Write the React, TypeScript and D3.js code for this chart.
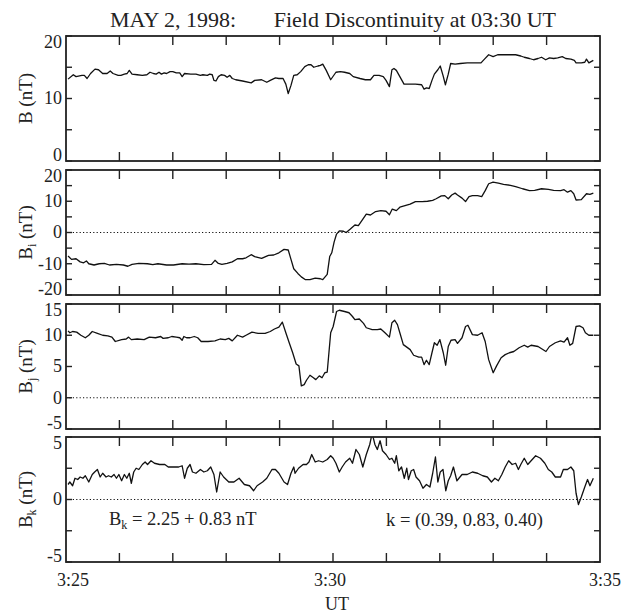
import React from 'react';
import * as d3 from 'd3';

// ---------- DATA ----------
const TITLE_LEFT = 'MAY 2, 1998:';
const TITLE_RIGHT = 'Field Discontinuity at 03:30 UT';
const X_TICK_LABELS = ['3:25', '3:30', '3:35'];
const X_LABEL_SECONDS = [0, 300, 600];
const MINUTE_TICKS = [60, 120, 180, 240, 300, 360, 420, 480, 540];
const X_TITLE = 'UT';
const ANNOT_LEFT = ['B', 'k', ' = 2.25 + 0.83 nT'];
const ANNOT_RIGHT = 'k = (0.39, 0.83, 0.40)';

// [seconds after 03:25:00, nT]
const B_DATA: [number, number][] = [
  [2.3, 13.1], [8.2, 13.8], [11.3, 13.5], [17.9, 13.7], [20.6, 13.7], [23.7, 13.2], [27.6, 14.0], [32.6, 14.7],
  [36.5, 14.6], [41.2, 14.0], [46.2, 14.0], [49.7, 14.4], [52.8, 14.0], [58.6, 13.7], [61.7, 13.7], [65.6, 13.9],
  [68.7, 14.0], [71.1, 14.5], [74.2, 13.9], [80.0, 13.8], [85.8, 13.7], [90.9, 13.8], [94.4, 14.2], [98.2, 14.0],
  [101.3, 13.9], [104.5, 14.2], [107.2, 13.9], [110.3, 14.1], [113.0, 14.0], [116.9, 14.3], [120.0, 14.3], [123.9, 14.1],
  [127.8, 14.1], [130.5, 13.5], [133.2, 14.0], [140.2, 13.9], [146.0, 13.9], [151.0, 13.7], [153.8, 13.8], [158.8, 13.7],
  [161.5, 13.9], [164.3, 13.8], [166.2, 12.9], [168.5, 12.8], [171.2, 13.5], [174.3, 13.8], [178.2, 13.7], [181.0, 13.4],
  [184.1, 13.7], [186.8, 13.2], [190.7, 13.0], [198.4, 12.8], [208.1, 12.5], [212.0, 12.9], [219.8, 13.0], [225.6, 12.6],
  [229.5, 12.9], [235.3, 13.3], [239.2, 13.2], [243.9, 13.2], [247.0, 12.3], [249.7, 10.8], [252.8, 12.1], [255.9, 13.7],
  [259.8, 13.8], [263.7, 14.3], [268.3, 15.1], [272.2, 15.4], [275.3, 15.4], [278.4, 15.0], [283.1, 15.2], [285.8, 15.3],
  [288.5, 15.5], [292.4, 14.5], [297.4, 13.0], [303.3, 14.2], [308.3, 14.3], [313.0, 14.2], [318.8, 14.0], [322.7, 13.5],
  [330.4, 13.2], [336.3, 13.0], [342.1, 13.0], [346.0, 13.7], [351.8, 13.7], [356.5, 13.5], [359.6, 12.9], [363.4, 11.9],
  [366.2, 14.6], [368.5, 14.8], [371.2, 14.5], [375.1, 13.5], [379.8, 12.3], [384.8, 12.3], [392.6, 12.3], [399.6, 12.2],
  [402.3, 11.5], [405.0, 11.7], [408.1, 11.6], [411.2, 12.9], [413.9, 13.9], [417.8, 14.6], [420.5, 15.2], [423.6, 13.7],
  [426.3, 12.2], [429.5, 13.9], [432.2, 15.6], [437.2, 15.5], [443.1, 15.6], [450.8, 15.7], [459.4, 15.7], [466.3, 15.7],
  [470.2, 16.3], [474.9, 17.0], [479.9, 16.7], [485.0, 17.0], [491.6, 17.0], [497.4, 17.0], [505.2, 17.0], [511.0, 16.8],
  [514.9, 16.6], [520.7, 16.4], [525.4, 16.2], [530.4, 16.4], [534.3, 16.6], [539.0, 16.2], [543.2, 16.5], [547.9, 16.4],
  [552.5, 16.5], [557.6, 16.7], [561.5, 16.4], [567.3, 16.3], [571.2, 16.1], [573.1, 15.7], [579.0, 15.7], [582.9, 15.8],
  [584.8, 16.3], [587.5, 15.7], [592.5, 16.1],
];

const BI_DATA: [number, number][] = [
  [2.3, -7.5], [6.2, -8.6], [11.3, -8.4], [15.9, -9.4], [19.8, -9.7], [22.9, -9.1], [25.6, -10.0], [31.5, -10.4],
  [37.3, -10.0], [43.1, -9.9], [48.9, -10.4], [56.7, -10.2], [64.5, -10.4], [69.5, -10.8], [74.2, -10.2], [81.9, -9.9],
  [91.6, -10.0], [97.5, -10.3], [103.3, -10.0], [113.0, -10.4], [120.8, -10.4], [130.5, -10.0], [138.2, -10.1], [146.0, -10.0],
  [154.9, -10.3], [163.5, -10.2], [167.4, -8.9], [171.2, -9.9], [175.1, -10.2], [181.0, -9.9], [186.8, -9.4], [192.6, -8.4],
  [198.4, -8.4], [202.3, -8.1], [208.1, -7.1], [212.0, -7.7], [219.8, -8.3], [227.5, -7.3], [233.4, -7.2], [239.2, -6.5],
  [245.0, -5.4], [249.7, -5.6], [252.8, -8.6], [255.9, -11.6], [260.5, -13.1], [264.4, -14.2], [269.1, -15.1], [274.1, -15.1],
  [280.0, -14.6], [285.8, -14.8], [288.5, -15.1], [293.5, -13.4], [296.3, -7.7], [298.6, -6.5], [301.3, -3.0], [304.0, -0.5],
  [307.1, 0.5], [311.8, 0.4], [314.9, 0.0], [319.5, 1.1], [324.6, 2.4], [328.5, 2.2], [332.4, 3.8], [337.4, 5.9],
  [342.1, 5.6], [347.9, 6.7], [353.7, 7.0], [359.6, 6.8], [363.4, 5.7], [366.6, 7.5], [371.2, 7.0], [375.1, 8.1],
  [380.9, 8.6], [386.7, 9.1], [392.6, 9.9], [400.3, 9.9], [406.2, 10.0], [412.0, 10.3], [415.9, 10.8], [421.7, 11.7],
  [425.6, 11.8], [429.5, 10.8], [433.4, 12.0], [437.2, 12.6], [439.9, 12.0], [445.0, 11.0], [448.9, 9.9], [452.8, 11.5],
  [456.6, 11.8], [462.5, 11.8], [467.1, 11.5], [471.0, 13.4], [474.9, 15.6], [479.9, 16.1], [485.8, 15.8], [491.6, 15.4],
  [499.4, 15.1], [505.2, 14.7], [513.0, 14.0], [520.7, 13.4], [526.6, 13.5], [534.3, 14.0], [542.1, 13.8], [547.9, 13.5],
  [555.7, 13.4], [559.6, 13.7], [563.5, 12.9], [567.3, 13.4], [570.5, 12.4], [573.1, 10.4], [579.0, 10.5], [584.8, 12.4],
  [588.7, 12.2], [592.5, 12.6],
];

const BJ_DATA: [number, number][] = [
  [2.3, 10.7], [4.3, 10.4], [7.4, 10.6], [12.0, 10.5], [16.7, 10.0], [21.7, 9.6], [25.6, 10.0], [29.5, 10.6],
  [35.3, 10.3], [41.2, 10.0], [47.0, 9.9], [51.6, 9.7], [55.4, 9.0], [62.5, 9.3], [67.6, 9.4], [70.3, 9.7],
  [73.4, 9.3], [80.0, 9.4], [87.8, 9.3], [93.6, 9.7], [100.6, 9.6], [106.4, 9.8], [109.1, 9.5], [114.9, 9.6],
  [118.8, 9.8], [123.9, 9.7], [127.8, 9.6], [130.5, 9.2], [132.4, 9.8], [135.5, 9.6], [139.4, 9.6], [144.1, 9.8],
  [148.0, 9.6], [151.9, 9.0], [159.6, 9.0], [167.4, 9.1], [173.2, 9.4], [179.0, 9.3], [182.9, 9.5], [186.8, 9.1],
  [192.6, 10.0], [198.4, 9.7], [202.3, 10.0], [208.9, 10.5], [215.9, 10.3], [223.7, 10.3], [229.5, 10.6], [234.2, 11.0],
  [239.2, 11.3], [243.1, 12.1], [247.0, 10.4], [250.8, 8.8], [254.7, 7.2], [258.6, 5.4], [261.7, 5.1], [264.4, 1.9],
  [267.6, 2.1], [270.2, 2.8], [274.1, 3.6], [278.0, 3.2], [280.7, 2.9], [284.6, 3.5], [287.7, 3.2], [290.8, 4.0],
  [293.5, 4.1], [297.4, 10.4], [300.2, 11.4], [304.0, 13.8], [307.1, 14.0], [313.0, 13.8], [318.0, 13.6], [321.9, 13.0],
  [324.6, 12.5], [329.6, 12.6], [334.3, 11.9], [337.4, 11.2], [344.0, 10.9], [349.8, 10.9], [353.7, 11.0], [358.4, 10.4],
  [363.4, 9.7], [366.2, 12.0], [369.3, 12.4], [372.4, 11.7], [375.1, 10.4], [379.0, 8.5], [382.9, 8.1], [386.7, 7.7],
  [390.6, 6.8], [396.4, 6.5], [399.6, 6.5], [402.3, 5.3], [405.0, 6.0], [408.1, 5.3], [411.2, 7.2], [413.9, 8.8],
  [417.0, 8.4], [420.1, 9.3], [423.9, 7.2], [426.6, 5.2], [429.5, 8.2], [432.6, 9.2], [437.2, 9.3], [439.9, 8.7],
  [445.0, 9.6], [448.9, 11.4], [451.6, 11.6], [456.6, 10.1], [462.5, 10.0], [467.5, 10.4], [471.0, 9.0], [474.9, 6.1],
  [480.0, 4.0], [483.8, 5.1], [488.9, 6.4], [493.5, 6.9], [498.2, 7.2], [503.2, 7.4], [509.1, 8.0], [514.9, 8.4],
  [518.8, 8.1], [522.6, 8.4], [530.4, 8.2], [539.3, 7.4], [543.2, 8.2], [549.8, 8.8], [555.7, 9.1], [559.6, 8.9],
  [563.5, 9.6], [566.2, 8.4], [569.3, 8.7], [573.1, 11.4], [577.0, 11.5], [580.9, 11.2], [583.6, 10.4], [587.5, 10.0],
  [592.5, 10.0],
];

const BK_DATA: [number, number][] = [
  [2.3, 1.2], [4.3, 1.4], [7.4, 1.1], [10.1, 1.7], [13.2, 1.6], [15.9, 1.8], [19.0, 1.7], [21.7, 1.9],
  [25.6, 1.4], [29.5, 2.0], [32.2, 2.2], [35.3, 2.4], [38.4, 1.8], [41.2, 2.1], [45.0, 1.8], [47.8, 1.9],
  [50.9, 1.8], [54.0, 2.0], [56.7, 1.7], [59.4, 2.0], [62.5, 1.5], [65.6, 2.0], [68.3, 1.7], [71.1, 2.1],
  [73.4, 1.3], [76.1, 2.2], [78.8, 2.5], [81.9, 2.4], [85.8, 2.8], [88.9, 3.0], [91.6, 2.8], [95.5, 3.1],
  [99.4, 2.9], [105.2, 2.8], [111.1, 2.8], [114.9, 2.6], [120.8, 2.6], [126.6, 2.6], [130.5, 2.7], [133.2, 1.7],
  [136.3, 2.5], [139.4, 2.8], [142.1, 2.2], [146.0, 2.1], [151.0, 2.4], [154.9, 2.2], [158.8, 2.3], [162.6, 2.6],
  [166.2, 2.0], [169.3, 0.6], [173.2, 2.2], [177.1, 1.8], [182.9, 1.4], [188.7, 1.4], [194.5, 1.7], [200.4, 1.2],
  [206.2, 1.1], [210.8, 0.7], [214.7, 1.1], [220.9, 1.4], [225.6, 1.7], [231.4, 2.4], [235.3, 2.4], [239.2, 2.1],
  [245.0, 1.4], [248.9, 1.2], [252.8, 2.1], [255.9, 2.6], [257.4, 2.1], [261.3, 2.5], [266.4, 2.8], [270.2, 2.8],
  [273.0, 3.0], [276.1, 3.6], [280.0, 3.0], [283.8, 3.1], [288.5, 3.0], [293.5, 3.2], [297.4, 3.5], [300.2, 3.3],
  [303.3, 2.9], [307.1, 2.2], [310.3, 2.6], [314.1, 3.0], [318.8, 3.3], [321.9, 2.9], [325.8, 4.0], [329.6, 3.6],
  [333.5, 2.6], [337.4, 3.6], [341.3, 4.4], [344.0, 5.3], [347.1, 4.4], [349.8, 4.0], [352.9, 4.7], [355.6, 3.9],
  [359.6, 3.6], [363.4, 3.2], [366.2, 3.3], [369.3, 2.9], [371.2, 3.5], [373.9, 2.3], [377.0, 2.6], [380.1, 1.7],
  [382.9, 2.5], [384.8, 1.6], [387.9, 2.3], [390.6, 2.4], [393.3, 1.8], [397.2, 1.5], [401.1, 0.9], [405.0, 1.2],
  [408.9, 1.0], [412.0, 2.1], [415.1, 3.4], [417.8, 1.4], [420.5, 2.2], [423.6, 2.4], [426.7, 0.7], [429.5, 1.5],
  [432.2, 1.9], [435.3, 2.6], [439.2, 1.5], [445.0, 2.0], [450.8, 2.0], [456.6, 2.2], [462.5, 2.1], [468.3, 1.9],
  [473.4, 1.8], [478.0, 1.4], [481.9, 1.7], [485.8, 1.5], [489.7, 2.0], [493.5, 2.6], [497.4, 3.1], [501.3, 2.8],
  [505.2, 2.9], [508.3, 2.4], [511.0, 2.8], [514.9, 3.3], [518.8, 2.8], [522.6, 3.1], [527.7, 3.5], [533.1, 3.3],
  [538.0, 2.9], [541.9, 2.4], [545.8, 2.2], [549.8, 1.8], [555.7, 1.8], [558.8, 2.4], [563.5, 2.4], [567.3, 2.6],
  [570.5, 2.3], [573.1, 0.5], [575.8, -0.4], [579.0, 0.2], [582.9, 1.0], [586.0, 1.6], [588.7, 1.1], [592.5, 1.7],
];

const B_TICKS = [0, 5, 10, 15, 20];
const B_LABELS = [0, 10, 20];
const BI_TICKS = [-20, -15, -10, -5, 0, 5, 10, 15, 20];
const BI_LABELS = [-20, -10, 0, 10, 20];
const BJ_TICKS = [-5, 0, 5, 10, 15];
const BJ_LABELS = [-5, 0, 5, 10, 15];
const BK_TICKS = [-5, -2.5, 0, 2.5, 5];
const BK_LABELS = [-5, 0, 5];

// ---------- LAYOUT ----------
const W = 626;
const H = 613;
const X0 = 66;
const X1 = 600;
const PH = 125;
const FONT = '"Liberation Serif"';
const FS = 18;

type Panel = {
  top: number;
  domain: [number, number];
  ticks: number[];
  labels: number[];
  data: [number, number][];
  sub: string;
  zero: boolean;
};

const PANELS: Panel[] = [
  { top: 36, domain: [0, 20], ticks: B_TICKS, labels: B_LABELS, data: B_DATA, sub: '', zero: false },
  { top: 170, domain: [-20, 20], ticks: BI_TICKS, labels: BI_LABELS, data: BI_DATA, sub: 'i', zero: true },
  { top: 304, domain: [-5, 15], ticks: BJ_TICKS, labels: BJ_LABELS, data: BJ_DATA, sub: 'j', zero: true },
  { top: 437, domain: [-5, 5], ticks: BK_TICKS, labels: BK_LABELS, data: BK_DATA, sub: 'k', zero: true },
];

const x = d3.scaleLinear().domain([0, 600]).range([X0, X1]);

const textStyle: React.CSSProperties = { fontFamily: FONT };

function PanelView({ p, idx }: { p: Panel; idx: number }) {
  const bottom = p.top + PH;
  const y = d3.scaleLinear().domain(p.domain).range([bottom, p.top]);
  const line = d3
    .line<[number, number]>()
    .x((d) => x(d[0]))
    .y((d) => y(d[1]));
  const clipId = `clip${idx}`;
  const mid = (p.top + bottom) / 2;
  return (
    <g>
      <defs>
        <clipPath id={clipId}>
          <rect x={X0} y={p.top} width={X1 - X0} height={PH} />
        </clipPath>
      </defs>
      {p.zero && (
        <line
          x1={X0}
          x2={X1}
          y1={y(0)}
          y2={y(0)}
          stroke="#111"
          strokeWidth={1.2}
          strokeDasharray="1.2 2.2"
        />
      )}
      <path d={line(p.data) || ''} fill="none" stroke="#111" strokeWidth={1.3} clipPath={`url(#${clipId})`} strokeLinejoin="round" />
      {MINUTE_TICKS.map((t) => (
        <g key={t}>
          <line x1={x(t)} x2={x(t)} y1={p.top} y2={p.top + 9} stroke="#222" strokeWidth={1.4} />
          <line x1={x(t)} x2={x(t)} y1={bottom} y2={bottom - 9} stroke="#222" strokeWidth={1.4} />
        </g>
      ))}
      {p.ticks.map((v) => (
        <g key={v}>
          <line x1={X0} x2={X0 + 6} y1={y(v)} y2={y(v)} stroke="#222" strokeWidth={1.4} />
          <line x1={X1} x2={X1 - 6} y1={y(v)} y2={y(v)} stroke="#222" strokeWidth={1.4} />
        </g>
      ))}
      <rect x={X0} y={p.top} width={X1 - X0} height={PH} fill="none" stroke="#222" strokeWidth={1.8} />
      {p.labels.map((v) => {
        const yy = y(v);
        const base = Math.min(bottom, Math.max(p.top + 0.66 * FS, yy + 0.33 * FS));
        return (
          <text key={v} x={62} y={base} textAnchor="end" fontSize={FS} style={textStyle} fill="#222">
            {v < 0 ? '-' + Math.abs(v) : String(v)}
          </text>
        );
      })}
      <text
        transform={`translate(32, ${mid}) rotate(-90)`}
        textAnchor="middle"
        fontSize={19}
        style={textStyle}
        fill="#222"
      >
        B
        {p.sub && (
          <tspan fontSize={12} dy={4}>
            {p.sub}
          </tspan>
        )}
        <tspan dy={p.sub ? -4 : 0}>{' (nT)'}</tspan>
      </text>
    </g>
  );
}

export default function App() {
  const lastBottom = PANELS[PANELS.length - 1].top + PH;
  const xLabelOffsets = [7, -3, 5];
  return (
    <svg
      width={W}
      height={H}
      style={{ position: 'absolute', left: 0, top: 0, background: '#fff' }}
    >
      <rect x={0} y={0} width={W} height={H} fill="#fff" />
      <text x={110} y={27} fontSize={22} style={textStyle} fill="#222">
        {TITLE_LEFT}
      </text>
      <text x={556} y={27} fontSize={22} style={textStyle} fill="#222" textAnchor="end">
        {TITLE_RIGHT}
      </text>
      {PANELS.map((p, i) => (
        <PanelView key={i} p={p} idx={i} />
      ))}
      {X_TICK_LABELS.map((lab, i) => (
        <text
          key={lab}
          x={x(X_LABEL_SECONDS[i]) + xLabelOffsets[i]}
          y={lastBottom + 24}
          textAnchor="middle"
          fontSize={FS}
          style={textStyle}
          fill="#222"
        >
          {lab}
        </text>
      ))}
      <text x={x(300) + 4} y={610} textAnchor="middle" fontSize={FS} style={textStyle} fill="#222">
        {X_TITLE}
      </text>
      <text x={109} y={525} fontSize={18.5} style={textStyle} fill="#222">
        {ANNOT_LEFT[0]}
        <tspan fontSize={12} dy={4}>
          {ANNOT_LEFT[1]}
        </tspan>
        <tspan dy={-4}>{ANNOT_LEFT[2]}</tspan>
      </text>
      <text x={386} y={526} fontSize={18.5} style={textStyle} fill="#222">
        {ANNOT_RIGHT}
      </text>
    </svg>
  );
}
